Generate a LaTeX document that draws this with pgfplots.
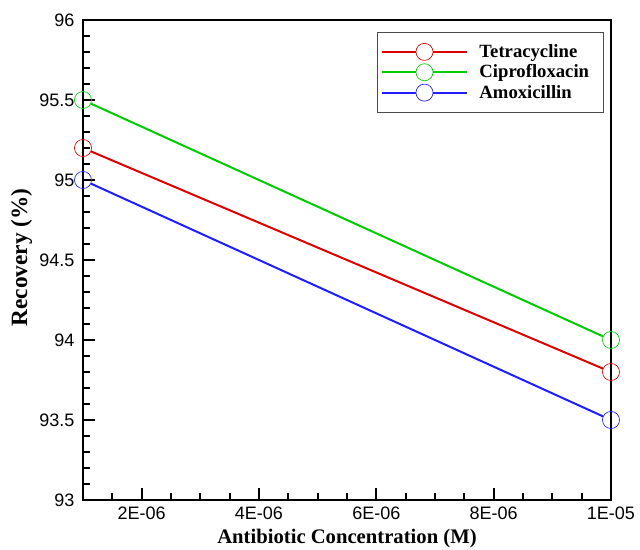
\documentclass[border=0pt]{standalone}
\usepackage{fontspec}
\setmainfont{Liberation Serif}
\newfontfamily\arialfont{Liberation Sans}
\usepackage{pgfplots}
\pgfplotsset{compat=1.18}
\definecolor{cred}{RGB}{220,0,0}
\definecolor{cgreen}{RGB}{0,205,0}
\definecolor{cblue}{RGB}{30,30,255}
\begin{document}
\begin{tikzpicture}
\useasboundingbox (-62.25pt,-37.5pt) rectangle (417.75pt,375pt);
\begin{axis}[
  scale only axis,
  width=396pt, height=360pt,
  xmin=1e-6, xmax=1e-5, ymin=93, ymax=96,
  xtick={2e-6,4e-6,6e-6,8e-6,1e-5},
  xticklabels={2E-06,4E-06,6E-06,8E-06,1E-05},
  minor xtick={1.5e-6,2.5e-6,3e-6,3.5e-6,4.5e-6,5e-6,5.5e-6,6.5e-6,7e-6,7.5e-6,8.5e-6,9e-6,9.5e-6},
  ytick={93,93.5,94,94.5,95,95.5,96},
  yticklabels={93,93.5,94,94.5,95,95.5,96},
  minor y tick num=4,
  scaled x ticks=false,
  xtick pos=bottom, ytick pos=left,
  tick align=inside,
  major tick length=9pt, minor tick length=5.5pt,
  every tick/.style={black, line width=1.4pt},
  axis line style={line width=1.5pt},
  tick label style={font=\arialfont\fontsize{13.5}{15}\selectfont},
  xticklabel style={yshift=-2pt},
  yticklabel style={xshift=-3pt},
  xlabel={Antibiotic Concentration (M)},
  ylabel={Recovery (\%)},
  every axis x label/.style={at={(rel axis cs:0.5,0)}, yshift=-29pt, anchor=center, font=\bfseries\fontsize{15.5}{17}\selectfont},
  every axis y label/.style={at={(rel axis cs:0,0.5)}, xshift=-46pt, yshift=2pt, rotate=90, anchor=center, font=\bfseries\fontsize{17.5}{19}\selectfont},
  legend style={at={(rel axis cs:0.557,0.975)}, anchor=north west, draw=black!70, line width=0.6pt,
    font=\bfseries\fontsize{14}{15}\selectfont, row sep=0pt, inner xsep=3pt, inner ysep=7pt,
    text width=88pt, cells={anchor=west}},
  legend image code/.code={
    \path (0pt,0pt) -- (70pt,0pt);
    \draw[#1, mark=none, shorten <=0pt, shorten >=0pt] (0pt,0pt) -- (63pt,0pt);
    \draw[#1, mark=none, line width=0.5pt, fill=white, shorten <=0pt, shorten >=0pt] (31.5pt,0pt) circle (6.4pt);
  },
]
\addplot[cred, line width=1.5pt, shorten <=6.4pt, shorten >=6.4pt, mark=o, mark size=6.4pt, mark options={line width=0.5pt}] coordinates {(1e-6,95.2) (1e-5,93.8)};
\addlegendentry{Tetracycline}
\addplot[cgreen, line width=1.5pt, shorten <=6.4pt, shorten >=6.4pt, mark=o, mark size=6.4pt, mark options={line width=0.5pt}] coordinates {(1e-6,95.5) (1e-5,94.0)};
\addlegendentry{Ciprofloxacin}
\addplot[cblue, line width=1.5pt, shorten <=6.4pt, shorten >=6.4pt, mark=o, mark size=6.4pt, mark options={line width=0.5pt}] coordinates {(1e-6,95.0) (1e-5,93.5)};
\addlegendentry{Amoxicillin}
\end{axis}
\end{tikzpicture}
\end{document}
